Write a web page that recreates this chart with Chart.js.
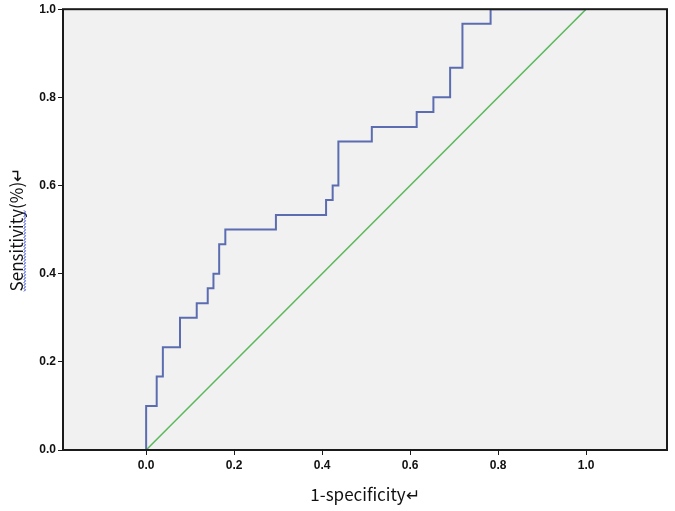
<!DOCTYPE html>
<html>
<head>
<meta charset="utf-8">
<script src="https://cdn.jsdelivr.net/npm/chart.js@4"></script>
<style>
  html, body { margin: 0; padding: 0; background: #ffffff; }
  #wrap { width: 675px; height: 511px; position: relative; }
</style>
</head>
<body>
<div id="wrap"><canvas id="rocChart"></canvas></div>
<script>
// ROC curve - step points (1-specificity, sensitivity)
const falsePosRate = [0, 0, 0.024, 0.038, 0.077, 0.115, 0.140, 0.153, 0.166, 0.180, 0.295, 0.409, 0.424, 0.437, 0.513, 0.615, 0.653, 0.691, 0.719, 0.783, 1.0];
const sensitivity  = [0, 0.100, 0.167, 0.233, 0.300, 0.333, 0.367, 0.400, 0.467, 0.500, 0.533, 0.567, 0.600, 0.700, 0.733, 0.767, 0.800, 0.867, 0.967, 1.000, 1.0];
const refLineX = [0, 1];
const refLineY = [0, 1];
const tickValues = [0, 0.2, 0.4, 0.6, 0.8, 1.0];

const rocPoints = falsePosRate.map((x, i) => ({ x: x, y: sensitivity[i] }));
const refPoints = refLineX.map((x, i) => ({ x: x, y: refLineY[i] }));

const tickFont = { family: '"Liberation Sans", Arial, sans-serif', size: 12, weight: 'bold' };
const titleFont = { family: '"Noto Sans CJK SC", "Noto Sans", sans-serif', size: 17 };
const yTitleText = 'Sensitivity(%)\u21b5';

// grey plot area + full black frame
const frameBg = {
    id: 'frameBg',
    beforeDraw(chart) {
        const { ctx, chartArea: a } = chart;
        ctx.save();
        ctx.fillStyle = '#f1f1f1';
        ctx.fillRect(a.left, a.top, a.right - a.left, a.bottom - a.top);
        ctx.restore();
    },
    afterDraw(chart) {
        const { ctx, chartArea: a } = chart;
        ctx.save();
        ctx.strokeStyle = '#1a1a1a';
        ctx.lineWidth = 2;
        ctx.strokeRect(a.left, a.top, a.right - a.left, a.bottom - a.top);

        // spell-check squiggle under "Sensitivity" (as in the source screenshot)
        ctx.font = titleFont.size + 'px ' + titleFont.family;
        const full = ctx.measureText(yTitleText).width;
        const word = ctx.measureText('Sensitivity').width;
        const yc = (a.top + a.bottom) / 2;
        const x0 = 24;
        const yStart = yc + full / 2;
        const yEnd = yStart - word;
        ctx.strokeStyle = '#2a3fd0';
        ctx.lineWidth = 1;
        ctx.beginPath();
        let k = 0;
        for (let y = yStart; y >= yEnd; y -= 1.5, k++) {
            const x = x0 + (k % 2 === 0 ? 0 : 1.5);
            if (k === 0) ctx.moveTo(x, y); else ctx.lineTo(x, y);
        }
        ctx.stroke();
        ctx.restore();
    }
};

new Chart(document.getElementById('rocChart').getContext('2d'), {
    type: 'scatter',
    data: {
        datasets: [{
            label: 'ROC',
            data: rocPoints,
            showLine: true,
            stepped: 'before',
            borderColor: '#5b6db0',
            borderWidth: 2,
            pointRadius: 0,
            fill: false
        }, {
            label: 'Reference',
            data: refPoints,
            showLine: true,
            borderColor: '#5cb85c',
            borderWidth: 1.5,
            pointRadius: 0,
            fill: false
        }]
    },
    options: {
        responsive: true,
        maintainAspectRatio: false,
        animation: false,
        layout: { padding: { top: 9, right: 8, left: 0, bottom: 0 } },
        plugins: {
            legend: { display: false },
            tooltip: { enabled: false }
        },
        scales: {
            x: {
                type: 'linear',
                min: -0.189,
                max: 1.184,
                afterBuildTicks(scale) { scale.ticks = tickValues.map(v => ({ value: v })); },
                afterFit(scale) { scale.height = 61; },
                grid: { drawOnChartArea: false, drawTicks: true, tickLength: 5, tickColor: '#1a1a1a' },
                border: { display: false },
                ticks: {
                    color: '#111',
                    font: tickFont,
                    padding: 3,
                    maxRotation: 0,
                    callback: v => v.toFixed(1)
                },
                title: {
                    display: true,
                    text: '1-specificity\u21b5',
                    color: '#111',
                    font: titleFont,
                    padding: { top: 4, bottom: 6 }
                }
            },
            y: {
                type: 'linear',
                min: 0,
                max: 1,
                afterBuildTicks(scale) { scale.ticks = tickValues.map(v => ({ value: v })); },
                afterFit(scale) { scale.width = 63; },
                grid: { drawOnChartArea: false, drawTicks: true, tickLength: 5, tickColor: '#1a1a1a' },
                border: { display: false },
                ticks: {
                    color: '#111',
                    font: tickFont,
                    padding: 2,
                    callback: v => v.toFixed(1)
                },
                title: {
                    display: true,
                    text: yTitleText,
                    color: '#111',
                    font: titleFont,
                    padding: { top: 6, bottom: 0 }
                }
            }
        }
    },
    plugins: [frameBg]
});
</script>
</body>
</html>
